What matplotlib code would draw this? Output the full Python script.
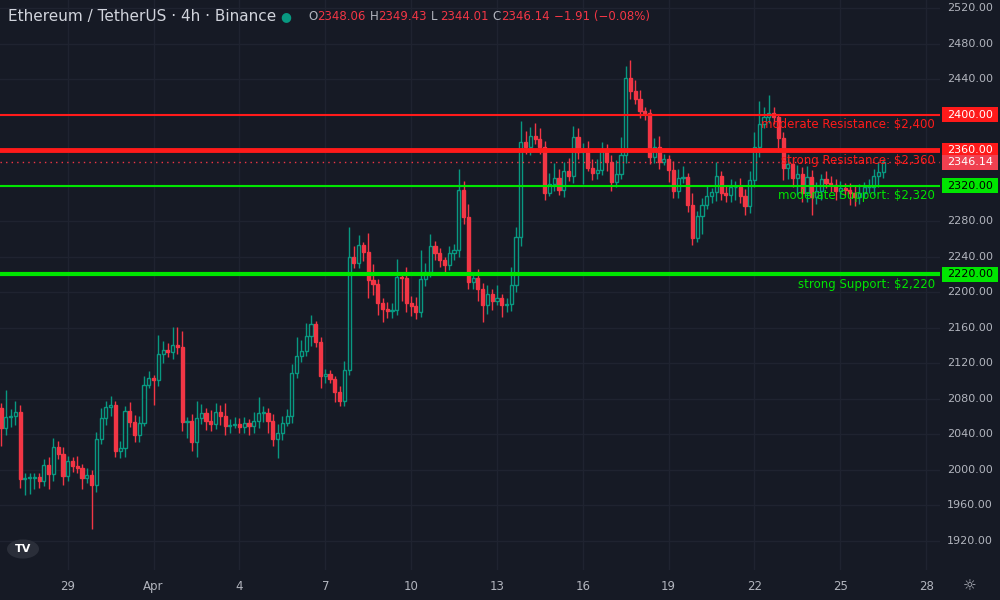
import matplotlib
matplotlib.use("Agg")
import matplotlib.pyplot as plt
from matplotlib.patches import Rectangle

first_open = 2070
closes = [2047,2060,2061,2065,1990,1991,1991,1992,1988,2006,1995,2026,2018,1993,2010,2004,2002,1991,1994,1983,
2035,2058,2071,2073,2021,2025,2066,2054,2039,2053,2096,2103,2101,2130,2135,2133,2141,2138,2054,2055,
2031,2058,2064,2055,2052,2065,2061,2049,2051,2052,2048,2053,2049,2055,2064,2064,2055,2035,2042,2053,
2061,2109,2128,2134,2151,2164,2144,2106,2108,2102,2088,2078,2113,2240,2233,2253,2245,2214,2209,2188,
2181,2179,2180,2217,2216,2188,2185,2178,2215,2223,2252,2244,2236,2231,2244,2248,2315,2285,2212,2216,
2204,2186,2198,2190,2194,2186,2187,2208,2262,2369,2364,2376,2373,2364,2312,2322,2329,2315,2337,2331,
2375,2358,2358,2340,2334,2338,2359,2347,2324,2333,2355,2441,2427,2418,2404,2402,2352,2364,2347,2350,
2338,2314,2329,2330,2298,2261,2286,2298,2308,2313,2331,2312,2310,2318,2319,2308,2297,2326,2364,2389,
2397,2402,2397,2374,2340,2344,2329,2333,2312,2330,2307,2314,2327,2323,2321,2314,2317,2315,2312,2307,
2312,2318,2318,2331,2335,2346.14]
upper_wick = [5,30,8,12,8,6,5,4,5,6,8,10,6,8,6,5,12,5,8,6,
8,12,6,10,4,8,6,10,8,8,10,8,4,22,10,8,20,20,18,4,
8,20,10,6,12,10,8,14,6,8,6,6,4,10,18,8,6,8,10,8,
8,10,22,12,14,10,4,6,6,4,4,6,10,34,12,12,4,22,18,6,
6,8,8,20,4,12,8,10,32,10,14,6,6,4,8,6,24,10,14,6,
10,6,10,6,14,4,6,20,12,24,12,10,14,12,6,12,16,10,10,14,
12,10,10,12,10,12,10,8,8,16,20,14,20,12,10,4,4,10,12,6,
4,10,10,12,4,14,6,8,12,4,16,6,8,10,6,10,8,10,16,26,
12,20,6,4,6,12,8,10,8,12,8,10,6,10,8,6,8,6,8,8,
10,6,10,8,12,4]
lower_wick = [20,8,12,10,10,18,18,12,8,6,16,8,6,10,6,6,6,12,6,50,
8,6,8,10,6,8,10,6,8,8,4,4,28,6,10,6,8,8,10,18,
10,16,6,10,8,6,10,10,8,4,6,6,10,8,8,10,14,8,22,8,
4,8,6,6,6,12,6,14,8,4,12,6,6,6,6,6,10,20,12,14,
14,8,8,6,26,10,12,8,6,8,6,8,8,8,6,8,8,8,8,8,
14,20,10,10,4,14,8,8,8,10,8,10,6,8,8,4,8,6,8,6,
8,8,36,4,8,6,6,10,10,6,6,10,10,6,8,8,8,6,8,4,
14,8,8,6,8,8,4,20,4,8,10,8,8,8,14,8,10,8,8,12,
4,6,8,16,14,12,10,20,10,10,20,8,10,6,8,10,8,6,14,10,
8,6,6,8,12,6]

levels = [2400, 2360, 2320, 2220]
level_names = ["moderate Resistance: $2,400", "strong Resistance: $2,360",
               "moderate Support: $2,320", "strong Support: $2,220"]
level_colors = ["#ff1a1a", "#ff1a1a", "#00e600", "#00e600"]
level_widths = [1.5, 3.5, 1.5, 3]
day_labels = ["29", "Apr", "4", "7", "10", "13", "16", "19", "22", "25", "28"]
yticks = list(range(1920, 2521, 40))

BG = "#161a25"; GRID = "#1f2330"; UP = "#089981"; DN = "#f23645"; TXT = "#b2b5be"

fig = plt.figure(figsize=(10, 6), dpi=100, facecolor=BG)
ax = fig.add_axes([0, 0.05, 0.94, 0.95], facecolor=BG)
ax.set_xlim(-0.21, 196.9)
ax.set_ylim(1887.3, 2529)
ax.set_yticks(yticks); ax.set_xticks([14 + 18 * k for k in range(len(day_labels))])
ax.grid(True, color=GRID, lw=1)
ax.tick_params(length=0, labelleft=False, labelbottom=False)
for s in ax.spines.values():
    s.set_visible(False)

opens = [first_open] + closes[:-1]
for i, (o, c) in enumerate(zip(opens, closes)):
    up = c >= o
    col = UP if up else DN
    lo, hi = min(o, c), max(o, c)
    ax.vlines(i, lo - lower_wick[i], lo, color=col, lw=1, zorder=2)
    ax.vlines(i, hi, hi + upper_wick[i], color=col, lw=1, zorder=2)
    ax.add_patch(Rectangle((i - 0.33, lo), 0.66, max(hi - lo, 0.8),
                           facecolor=BG if up else col, edgecolor=col, lw=1, zorder=3))

for lv, name, col, w in zip(levels, level_names, level_colors, level_widths):
    ax.axhline(lv, color=col, lw=w, zorder=4)
    ax.text(195.8, lv - 4, name, color=col, fontsize=8.5, ha="right", va="top",
            family="DejaVu Sans", zorder=5)
ax.axhline(closes[-1], color=DN, lw=1, ls=(0, (1, 3)), zorder=4)

rax = fig.add_axes([0.94, 0.05, 0.06, 0.95], facecolor=BG)
rax.set_xlim(0, 1); rax.set_ylim(1887.3, 2529); rax.axis("off")
for t in yticks:
    rax.text(0.5, t, f"{t:.2f}", color=TXT, fontsize=8, ha="center", va="center")
tags = [(2400, "#ff1a1a", "white"), (2360, "#ff1a1a", "white"),
        (closes[-1], "#f04050", "white"), (2320, "#00e600", "black"), (2220, "#00e600", "black")]
for v, bc, tc in tags:
    rax.add_patch(Rectangle((0.03, v - 8.5), 0.94, 17, facecolor=bc, edgecolor="none", zorder=5))
    rax.text(0.5, v, f"{v:.2f}", color=tc, fontsize=8, ha="center", va="center", zorder=6)

bax = fig.add_axes([0, 0, 0.94, 0.05], facecolor=BG)
bax.set_xlim(-0.21, 196.9); bax.set_ylim(0, 1); bax.axis("off")
for k, lab in enumerate(day_labels):
    bax.text(14 + 18 * k, 0.45, lab, color=TXT, fontsize=8.5, ha="center", va="center")
fig.text(0.97, 0.023, "☼", color=TXT, fontsize=11, ha="center", va="center")

fig.text(0.008, 0.972, "Ethereum / TetherUS · 4h · Binance", color="#d1d4dc", fontsize=11, va="center")
fig.text(0.28, 0.972, "●", color="#089981", fontsize=9, va="center")
x = 0.308
for lab, val in [("O", "2348.06"), ("H", "2349.43"), ("L", "2344.01"), ("C", "2346.14")]:
    fig.text(x, 0.972, lab, color=TXT, fontsize=8.5, va="center")
    fig.text(x + 0.009, 0.972, val, color=DN, fontsize=8.5, va="center")
    x += 0.0615
fig.text(x, 0.972, "−1.91 (−0.08%)", color=DN, fontsize=8.5, va="center")

fig.patches.append(matplotlib.patches.Circle((0.023, 0.085), 0.016, transform=fig.transFigure,
                                             facecolor="#2a2e39", edgecolor="none"))
fig.text(0.023, 0.085, "TV", color="white", fontsize=8, weight="bold", ha="center", va="center")

fig.savefig("out.png", dpi=100, facecolor=BG)
